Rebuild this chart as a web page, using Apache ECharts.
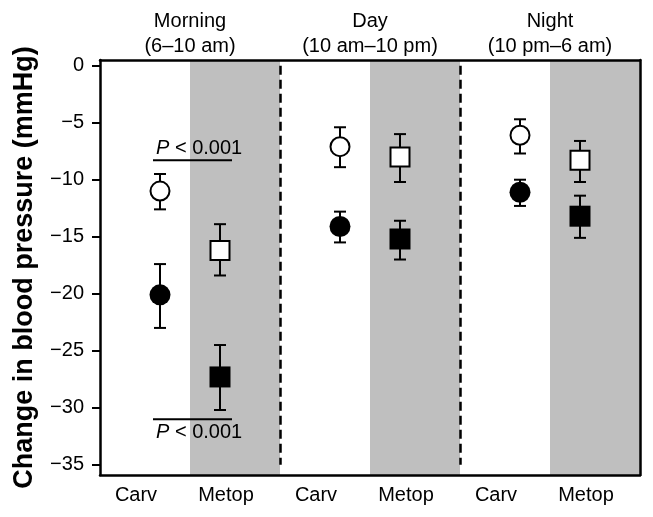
<!DOCTYPE html>
<html>
<head>
<meta charset="utf-8">
<script src="https://cdn.jsdelivr.net/npm/echarts@6/dist/echarts.min.js"></script>
<style>
html,body{margin:0;padding:0;background:#fff;}
#chart{width:653px;height:517px;}
</style>
</head>
<body>
<div id="chart"></div>
<script>
// ---- data ----
const periods = ['Morning\n(6–10 am)', 'Day\n(10 am–10 pm)', 'Night\n(10 pm–6 am)'];
const drugs = ['Carv', 'Metop'];
const yTicks = [0, -5, -10, -15, -20, -25, -30, -35];

// mean change and error bar [low, high] per period
const carvSystolic = [-20.1, -14.1, -11.1];
const carvSystolicErr = [[-23.0, -17.4], [-15.5, -12.8], [-12.3, -10.0]];
const carvDiastolic = [-11.0, -7.1, -6.1];
const carvDiastolicErr = [[-12.6, -9.5], [-8.9, -5.4], [-7.7, -4.7]];
const metopSystolic = [-27.3, -15.2, -13.2];
const metopSystolicErr = [[-30.2, -24.5], [-17.0, -13.6], [-15.1, -11.4]];
const metopDiastolic = [-16.2, -8.0, -8.3];
const metopDiastolicErr = [[-18.4, -13.9], [-10.2, -6.0], [-10.2, -6.6]];

// significance annotations (Morning period)
const pLabel = 'P < 0.001';
const pLevels = [-8.3, -31.0];

// ---- layout helpers ----
const xOf = (period, drug) => period * 2 + (drug === 0 ? 2 / 3 : 4 / 3);
const pts = (vals, drug) => vals.map((v, i) => [xOf(i, drug), v]);
const errs = (e, drug) => e.map((r, i) => [xOf(i, drug), r[0], r[1]]);

const errData = [].concat(
  errs(carvSystolicErr, 0), errs(carvDiastolicErr, 0),
  errs(metopSystolicErr, 1), errs(metopDiastolicErr, 1)
);

const bands = periods.map((p, i) => [{ xAxis: i * 2 + 1 }, { xAxis: i * 2 + 2 }]);
const dividers = periods.slice(1).map((p, i) => [
  { coord: [(i + 1) * 2, yTicks[0]] },
  { coord: [(i + 1) * 2, yTicks[yTicks.length - 1]] }
]);

const FONT = '"Liberation Sans", Arial, Helvetica, sans-serif';
const chart = echarts.init(document.getElementById('chart'), null, { renderer: 'canvas' });

const yMin = -35.9, yMax = 0.5;
const axisLineStyle = { color: '#000', width: 2.5 };

const option = {
  animation: false,
  backgroundColor: '#fff',
  grid: { left: 100, right: 13, top: 60, bottom: 42 },
  xAxis: [{
    type: 'value', min: 0, max: 6, position: 'bottom', z: 10,
    axisLine: { show: true, onZero: false, lineStyle: axisLineStyle },
    axisTick: { show: false },
    splitLine: { show: false },
    axisLabel: {
      customValues: [0.5, 1.5, 2.5, 3.5, 4.5, 5.5],
      formatter: v => drugs[Math.floor(v) % 2],
      color: '#000', fontFamily: FONT, fontSize: 20, margin: 10,
      padding: [0, 18, 0, 0]
    }
  }, {
    type: 'value', min: 0, max: 6, position: 'top', z: 10,
    axisLine: { show: true, onZero: false, lineStyle: axisLineStyle },
    axisTick: { show: false },
    splitLine: { show: false },
    axisLabel: {
      customValues: [1, 3, 5],
      formatter: v => periods[Math.round((v - 1) / 2)],
      color: '#000', fontFamily: FONT, fontSize: 20, lineHeight: 25, margin: 1
    }
  }],
  yAxis: [{
    type: 'value', min: yMin, max: yMax, position: 'left', z: 10,
    name: 'Change in blood pressure (mmHg)',
    nameLocation: 'middle', nameRotate: 90, nameGap: 62,
    nameTextStyle: { color: '#000', fontFamily: FONT, fontSize: 27, fontWeight: 'bold' },
    axisLine: { show: true, onZero: false, lineStyle: axisLineStyle },
    axisTick: { show: true, length: 8, customValues: yTicks, lineStyle: { color: '#000', width: 2 } },
    splitLine: { show: false },
    axisLabel: {
      customValues: yTicks,
      formatter: v => (v === 0 ? '0' : '\u2212' + Math.abs(v)),
      color: '#000', fontFamily: FONT, fontSize: 20, margin: 16
    }
  }, {
    type: 'value', min: yMin, max: yMax, position: 'right', z: 10,
    axisLine: { show: true, onZero: false, lineStyle: axisLineStyle },
    axisTick: { show: false }, axisLabel: { show: false }, splitLine: { show: false }
  }],
  series: [
    {
      name: 'Error bars', type: 'custom', xAxisIndex: 0, yAxisIndex: 0, z: 3,
      data: errData,
      renderItem: (params, api) => {
        const x = api.value(0);
        const top = api.coord([x, api.value(2)]);
        const bot = api.coord([x, api.value(1)]);
        const cap = 6;
        const st = { stroke: '#000', lineWidth: 2 };
        return {
          type: 'group', children: [
            { type: 'line', shape: { x1: top[0], y1: top[1], x2: bot[0], y2: bot[1] }, style: st },
            { type: 'line', shape: { x1: top[0] - cap, y1: top[1], x2: top[0] + cap, y2: top[1] }, style: st },
            { type: 'line', shape: { x1: bot[0] - cap, y1: bot[1], x2: bot[0] + cap, y2: bot[1] }, style: st }
          ]
        };
      },
      markArea: {
        silent: true,
        itemStyle: { color: '#bfbfbf', opacity: 1 },
        data: bands
      },
      markLine: {
        silent: true, symbol: 'none',
        label: { show: false },
        lineStyle: { color: '#000', width: 2.5, type: [9, 5], opacity: 1 },
        data: dividers
      }
    },
    {
      name: 'Carv systolic', type: 'scatter', z: 5, symbol: 'circle', symbolSize: 21,
      itemStyle: { color: '#000', opacity: 1 }, data: pts(carvSystolic, 0)
    },
    {
      name: 'Carv diastolic', type: 'scatter', z: 5, symbol: 'circle', symbolSize: 19,
      itemStyle: { color: '#fff', borderColor: '#000', borderWidth: 2, opacity: 1 }, data: pts(carvDiastolic, 0)
    },
    {
      name: 'Metop systolic', type: 'scatter', z: 5, symbol: 'rect', symbolSize: 21,
      itemStyle: { color: '#000', opacity: 1 }, data: pts(metopSystolic, 1)
    },
    {
      name: 'Metop diastolic', type: 'scatter', z: 5, symbol: 'rect', symbolSize: 19,
      itemStyle: { color: '#fff', borderColor: '#000', borderWidth: 2, opacity: 1 }, data: pts(metopDiastolic, 1)
    },
    {
      name: 'P values', type: 'custom', z: 6,
      data: pLevels.map((y, i) => [xOf(0, 0), xOf(0, 1), y, i]),
      renderItem: (params, api) => {
        const a = api.coord([api.value(0), api.value(2)]);
        const b = api.coord([api.value(1), api.value(2)]);
        const x0 = a[0] - 7, x1 = b[0] + 12;
        const above = api.value(3) === 0;
        return {
          type: 'group', children: [
            { type: 'line', shape: { x1: x0, y1: a[1], x2: x1, y2: a[1] }, style: { stroke: '#000', lineWidth: 2 } },
            {
              type: 'text', x: x0 + 3, y: a[1] + (above ? -12 : 13),
              style: {
                text: '{i|P}' + pLabel.slice(1),
                align: 'left', verticalAlign: 'middle',
                fill: '#000', font: '20px ' + FONT,
                rich: { i: { fontStyle: 'italic', fontSize: 20, fontFamily: FONT, fill: '#000' } }
              }
            }
          ]
        };
      }
    }
  ]
};
chart.setOption(option);
</script>
</body>
</html>
